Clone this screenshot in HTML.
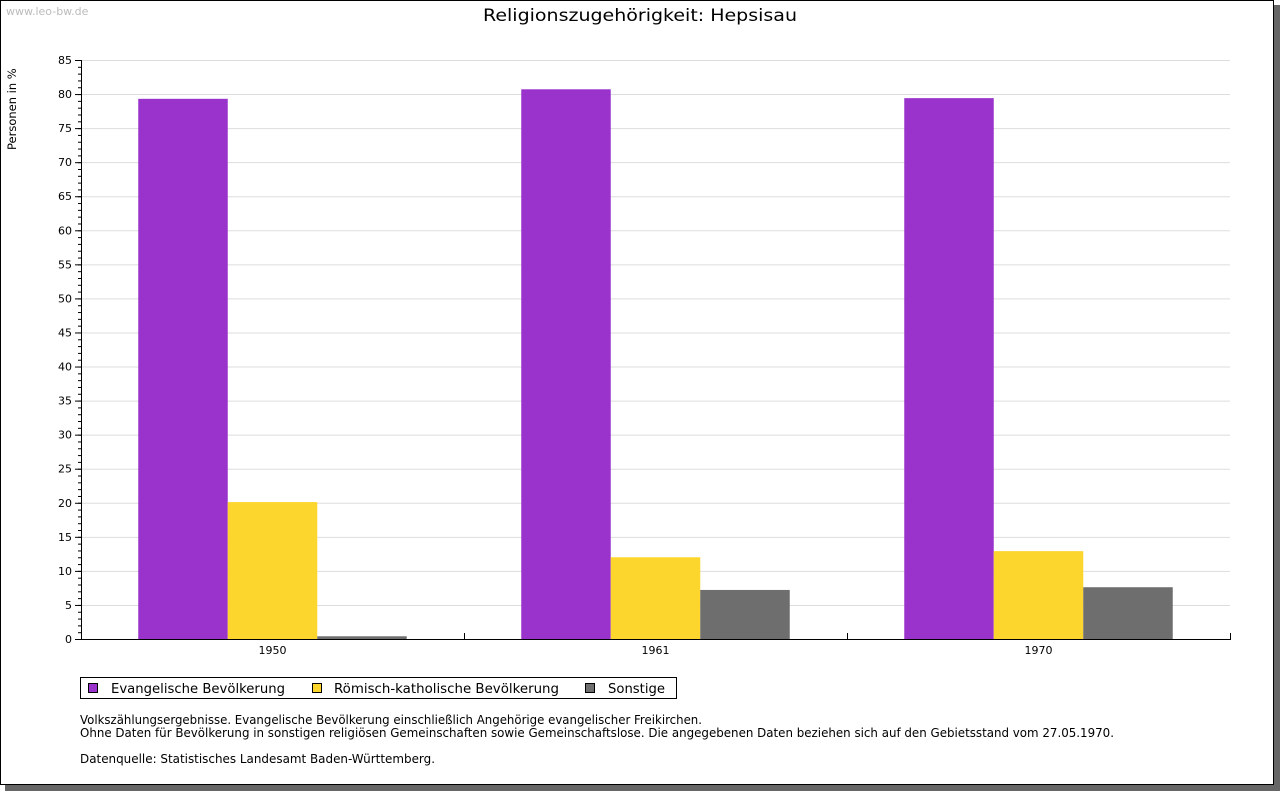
<!DOCTYPE html>
<html><head><meta charset="utf-8"><style>
body{margin:0;background:#fff;font-family:"DejaVu Sans",sans-serif}
</style></head><body>
<svg id="c" width="1280" height="791" xmlns="http://www.w3.org/2000/svg" font-family="DejaVu Sans, Liberation Sans, sans-serif">
<rect x="5" y="5" width="1275" height="786" fill="#666"/>
<rect x="0.5" y="0.5" width="1273" height="784" fill="#fff" stroke="#000"/>
<text x="6" y="15" font-size="11" fill="#bbb">www.leo-bw.de</text>
<text x="640" y="21" font-size="17" text-anchor="middle" textLength="314" lengthAdjust="spacingAndGlyphs">Religionszugehörigkeit: Hepsisau</text>
<text transform="translate(16,150) rotate(-90)" font-size="11.5">Personen in %</text>
<g id="grid"></g><g id="bars"></g><g id="axes"></g>
<g>
<rect x="80.5" y="677.5" width="596" height="21" fill="#fff" stroke="#000"/>
<rect x="88.5" y="683.5" width="9" height="9" fill="#9933cc" stroke="#000"/>
<text x="111" y="693" font-size="13" textLength="174" lengthAdjust="spacingAndGlyphs">Evangelische Bevölkerung</text>
<rect x="312.5" y="683.5" width="9" height="9" fill="#fdd62d" stroke="#000"/>
<text x="334" y="693" font-size="13" textLength="225" lengthAdjust="spacingAndGlyphs">Römisch-katholische Bevölkerung</text>
<rect x="585.5" y="683.5" width="9" height="9" fill="#6e6e6e" stroke="#000"/>
<text x="608" y="693" font-size="13" textLength="57" lengthAdjust="spacingAndGlyphs">Sonstige</text>
</g>
<g font-size="12">
<text x="80" y="724" textLength="622" lengthAdjust="spacingAndGlyphs">Volkszählungsergebnisse. Evangelische Bevölkerung einschließlich Angehörige evangelischer Freikirchen.</text>
<text x="80" y="737" textLength="1034" lengthAdjust="spacingAndGlyphs">Ohne Daten für Bevölkerung in sonstigen religiösen Gemeinschaften sowie Gemeinschaftslose. Die angegebenen Daten beziehen sich auf den Gebietsstand vom 27.05.1970.</text>
<text x="80" y="763" textLength="355" lengthAdjust="spacingAndGlyphs">Datenquelle: Statistisches Landesamt Baden-Württemberg.</text>
</g>
</svg>
<script>
const categories=["1950","1961","1970"];
const evangelisch=[79.3,80.7,79.4];
const katholisch=[20.1,12.0,12.9];
const sonstige=[0.4,7.2,7.6];
const yTicks=[0,5,10,15,20,25,30,35,40,45,50,55,60,65,70,75,80,85];
const NS="http://www.w3.org/2000/svg";
const X0=81,X1=1230,Y0=639,Y1=60,YMAX=85;
const y=v=>Y0-(v/YMAX)*(Y0-Y1);
const gw=(X1-X0)/categories.length;
const gx=i=>X0+i*gw;
function mk(t,a,p,txt){const e=document.createElementNS(NS,t);for(const k in a)e.setAttribute(k,a[k]);if(txt!=null)e.textContent=txt;p.appendChild(e);return e;}
const grid=document.getElementById('grid'),bars=document.getElementById('bars'),axes=document.getElementById('axes');
yTicks.forEach(t=>{
 if(t>0){const l=mk('line',{x1:X0,x2:X1,y1:y(t)+.5,y2:y(t)+.5,stroke:'#ddd'},grid);
 
 }
 const tl=mk('text',{x:X0-9,y:y(t)+4,'font-size':11,'text-anchor':'end'},axes,t);
 
 
 mk('line',{x1:X0-6,x2:X0,y1:y(t)+.5,y2:y(t)+.5,stroke:'#000'},axes);
});
for(let v=0;v<YMAX;v++){mk('line',{x1:X0-3,x2:X0,y1:y(v)+.5,y2:y(v)+.5,stroke:'#000'},axes);}
const series=[[evangelisch,'#9933cc','evangelisch'],[katholisch,'#fdd62d','katholisch'],[sonstige,'#6e6e6e','sonstige']];
const bw=89.5,pad=(gw-3*bw)/2;
categories.forEach((c,i)=>{
 series.forEach(([d,col,n],j)=>{
  const r=mk('rect',{x:gx(i)+pad+j*bw,y:y(d[i]),width:bw,height:Y0-y(d[i]),fill:col},bars);
  
  
 });
 const xl=mk('text',{x:gx(i)+gw/2,y:Y0+15,'font-size':11,'text-anchor':'middle'},axes,c);
 
 
 mk('line',{x1:gx(i+1)+.5,x2:gx(i+1)+.5,y1:Y0,y2:Y0-6,stroke:'#000'},axes);
});
const ya=mk('line',{x1:X0+.5,x2:X0+.5,y1:Y1,y2:Y0,stroke:'#000'},axes);


const xa=mk('line',{x1:X0,x2:X1+1,y1:Y0+.5,y2:Y0+.5,stroke:'#000'},axes);


</script>
</body></html>
